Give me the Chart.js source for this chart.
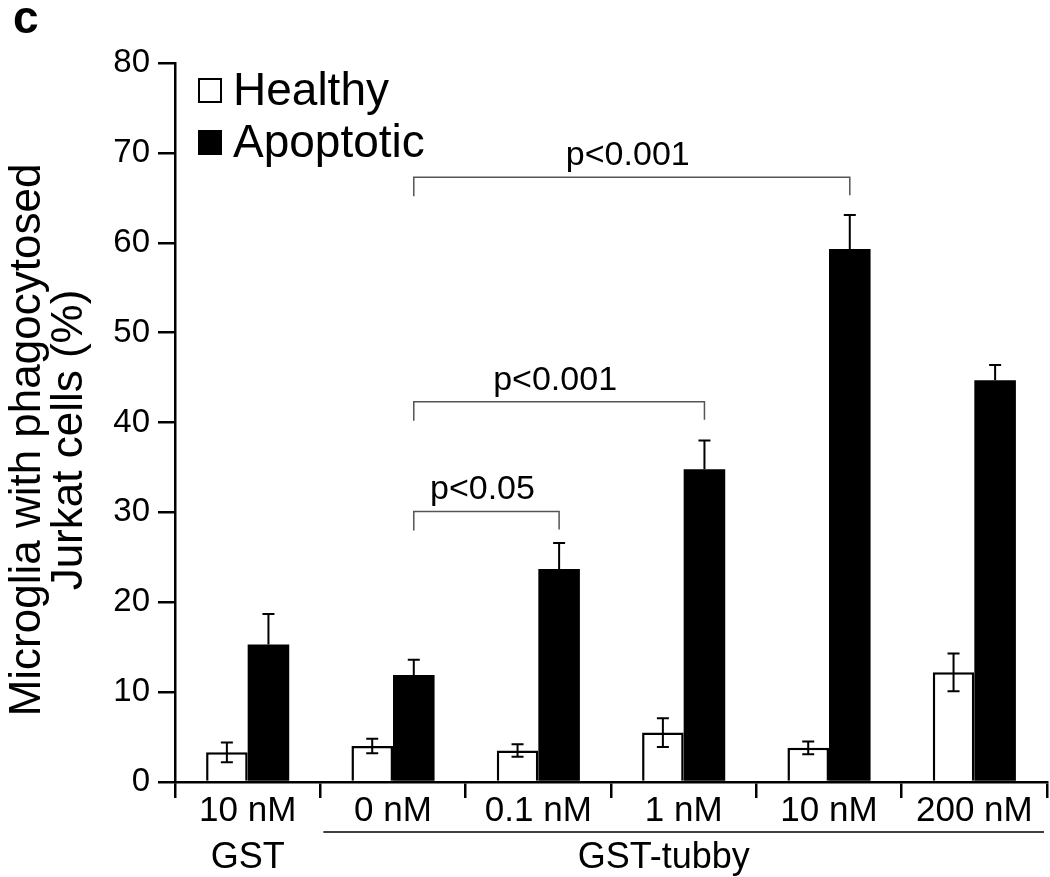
<!DOCTYPE html>
<html>
<head>
<meta charset="utf-8">
<script src="https://cdn.jsdelivr.net/npm/chart.js@4"></script>
<style>
  body { margin: 0; background: #fff; }
  #wrap { width: 1050px; height: 877px; }
</style>
</head>
<body>
<div id="wrap"><canvas id="phagoChart" width="1050" height="877"></canvas></div>
<script>
// categories (concentrations) and the group they belong to
const concentrations = ['10 nM', '0 nM', '0.1 nM', '1 nM', '10 nM', '200 nM'];
const groupLabels = ['GST', 'GST-tubby'];
const groupStart = [0, 1];
const groupEnd = [0, 5];

// % microglia with phagocytosed Jurkat cells
const healthy = [3.3, 4.0, 3.5, 5.5, 3.8, 12.2];
const healthyErr = [1.1, 0.8, 0.7, 1.6, 0.7, 2.1];
const apoptotic = [15.3, 11.9, 23.7, 34.8, 59.3, 44.7];
const apoptoticErr = [3.4, 1.7, 2.9, 3.2, 3.8, 1.7];

const yTicks = [0, 10, 20, 30, 40, 50, 60, 70, 80];

// significance brackets between apoptotic bars
const bracketFrom = [1, 1, 1];
const bracketTo = [2, 3, 4];
const bracketLevel = [30.1, 42.3, 67.3];
const bracketText = ['p<0.05', 'p<0.001', 'p<0.001'];

const FONT = "'Liberation Sans', Arial, sans-serif";
Chart.defaults.color = '#000';
Chart.defaults.font.family = FONT;

const errorBars = {
  id: 'errorBars',
  afterDatasetsDraw(chart) {
    const { ctx, scales: { y } } = chart;
    const errs = [healthyErr, apoptoticErr];
    ctx.save();
    ctx.strokeStyle = '#000';
    ctx.lineWidth = 2;
    chart.data.datasets.forEach((ds, i) => {
      const meta = chart.getDatasetMeta(i);
      meta.data.forEach((bar, j) => {
        const v = ds.data[j], e = errs[i][j];
        const top = y.getPixelForValue(v + e);
        const bottom = i === 0 ? y.getPixelForValue(v - e) : y.getPixelForValue(v);
        ctx.beginPath();
        ctx.moveTo(bar.x, top); ctx.lineTo(bar.x, bottom);
        ctx.moveTo(bar.x - 6, top); ctx.lineTo(bar.x + 6, top);
        if (i === 0) { ctx.moveTo(bar.x - 6, bottom); ctx.lineTo(bar.x + 6, bottom); }
        ctx.stroke();
      });
    });
    ctx.restore();
  }
};

const annotations = {
  id: 'annotations',
  afterDraw(chart) {
    const { ctx, scales: { x, y } } = chart;
    const meta = chart.getDatasetMeta(1);
    ctx.save();

    // brackets
    bracketFrom.forEach((from, k) => {
      const x1 = meta.data[from].x, x2 = meta.data[bracketTo[k]].x;
      const yy = y.getPixelForValue(bracketLevel[k]);
      ctx.strokeStyle = '#555';
      ctx.lineWidth = 1.5;
      ctx.beginPath();
      ctx.moveTo(x1, yy + 19); ctx.lineTo(x1, yy); ctx.lineTo(x2, yy); ctx.lineTo(x2, yy + 18);
      ctx.stroke();
      ctx.fillStyle = '#000';
      ctx.font = `34px ${FONT}`;
      ctx.textAlign = 'center';
      ctx.textBaseline = 'alphabetic';
      ctx.fillText(bracketText[k], (x1 + x2) / 2 - 4, yy - 12);
    });

    // group labels under the concentrations
    ctx.fillStyle = '#000';
    ctx.font = `36px ${FONT}`;
    ctx.textAlign = 'center';
    ctx.textBaseline = 'alphabetic';
    groupLabels.forEach((g, k) => {
      const a = x.getPixelForValue(groupStart[k]), b = x.getPixelForValue(groupEnd[k]);
      const cx = groupStart[k] === groupEnd[k] ? a : (a + b) / 2 - 20;
      ctx.fillText(g, cx, 868);
      if (groupStart[k] !== groupEnd[k]) {
        const half = (x.getPixelForValue(1) - x.getPixelForValue(0)) / 2;
        ctx.strokeStyle = '#000';
        ctx.lineWidth = 1.5;
        ctx.beginPath();
        ctx.moveTo(a - half + 3, 832); ctx.lineTo(b + half - 3, 832);
        ctx.stroke();
      }
    });

    // y axis title
    ctx.save();
    ctx.translate(0, 440);
    ctx.rotate(-Math.PI / 2);
    ctx.font = `44px ${FONT}`;
    ctx.textAlign = 'center';
    ctx.textBaseline = 'middle';
    ctx.fillText('Microglia with phagocytosed', 0, 28);
    ctx.fillText('Jurkat cells (%)', 0, 70);
    ctx.restore();

    // legend
    chart.data.datasets.forEach((ds, i) => {
      const top = 78 + i * 52;
      ctx.fillStyle = ds.backgroundColor;
      ctx.fillRect(198, top, 24, 25);
      ctx.strokeStyle = '#000';
      ctx.lineWidth = 2;
      ctx.strokeRect(199, top + 1, 22, 23);
      ctx.fillStyle = '#000';
      ctx.font = `46px ${FONT}`;
      ctx.textAlign = 'left';
      ctx.textBaseline = 'middle';
      ctx.fillText(ds.label, 233, top + 14);
    });

    // panel letter
    ctx.font = `bold 46px ${FONT}`;
    ctx.textAlign = 'left';
    ctx.textBaseline = 'alphabetic';
    ctx.fillText('c', 13, 33);
    ctx.restore();
  }
};

new Chart(document.getElementById('phagoChart').getContext('2d'), {
  type: 'bar',
  data: {
    labels: concentrations,
    datasets: [
      {
        label: 'Healthy',
        data: healthy,
        backgroundColor: '#ffffff',
        borderColor: '#000000',
        borderWidth: 2.5
      },
      {
        label: 'Apoptotic',
        data: apoptotic,
        backgroundColor: '#000000',
        borderColor: '#000000',
        borderWidth: 0
      }
    ]
  },
  options: {
    responsive: false,
    animation: false,
    devicePixelRatio: 1,
    categoryPercentage: 0.572,
    barPercentage: 1,
    layout: { padding: { top: 63, right: 3, left: 0, bottom: 0 } },
    plugins: {
      legend: { display: false },
      tooltip: { enabled: false }
    },
    scales: {
      x: {
        offset: true,
        grid: {
          offset: true,
          drawOnChartArea: false,
          tickLength: 16,
          color: '#000',
          lineWidth: 2.5
        },
        border: { color: '#000', width: 2.5 },
        ticks: { font: { size: 35, lineHeight: 1 }, padding: -4, color: '#000' },
        afterFit: s => { s.height = 95; }
      },
      y: {
        min: 0,
        max: 80,
        afterBuildTicks: s => { s.ticks = yTicks.map(v => ({ value: v })); },
        grid: {
          drawOnChartArea: false,
          tickLength: 17,
          color: '#000',
          lineWidth: 2.5
        },
        border: { color: '#000', width: 2.5 },
        ticks: { font: { size: 33 }, padding: 8, color: '#000' },
        afterFit: s => { s.width = 175; }
      }
    }
  },
  plugins: [errorBars, annotations]
});
</script>
</body>
</html>
